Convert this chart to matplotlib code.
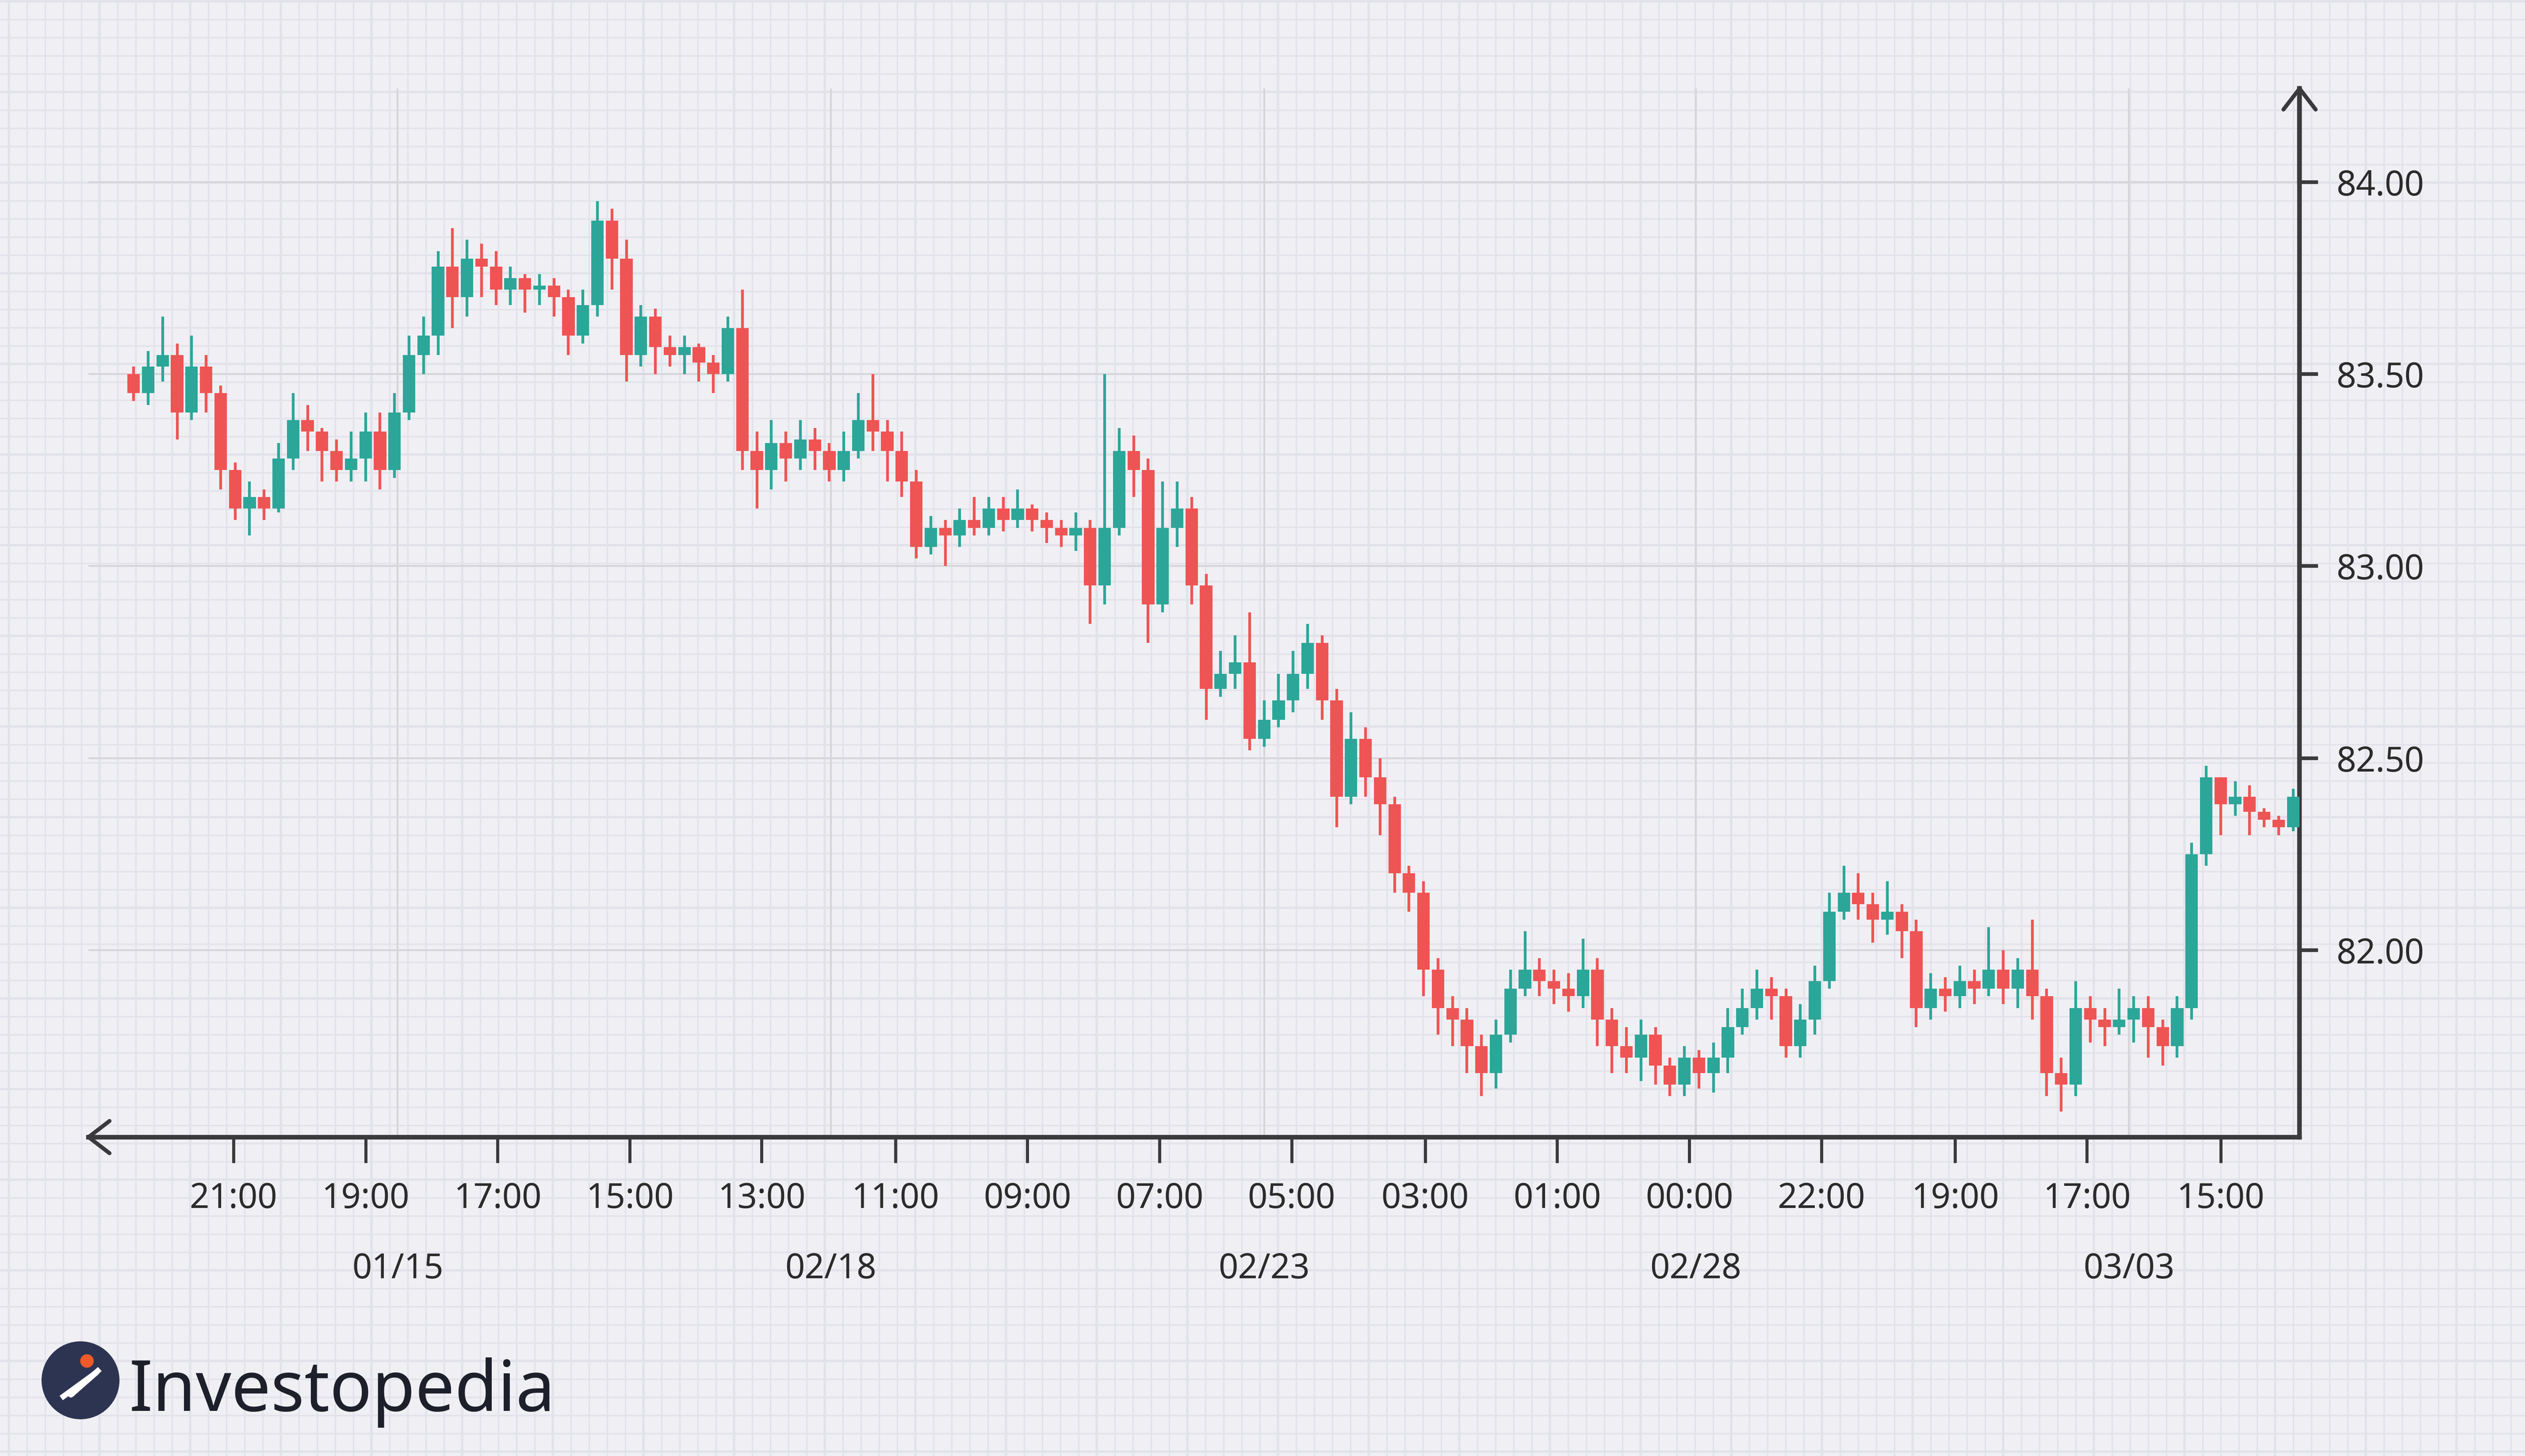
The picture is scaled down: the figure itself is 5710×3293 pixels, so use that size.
import matplotlib
matplotlib.use("Agg")
import matplotlib.pyplot as plt
from matplotlib.lines import Line2D
from matplotlib.patches import Circle

opens = [83.50,83.45,83.52,83.55,83.40,83.52,83.45,83.25,83.15,83.18,83.15,83.28,83.38,83.35,83.30,83.25,83.28,83.35,83.25,83.40,
83.55,83.60,83.78,83.70,83.80,83.78,83.72,83.75,83.72,83.73,83.70,83.60,83.68,83.90,83.80,83.55,83.65,83.57,83.55,83.57,
83.53,83.50,83.62,83.30,83.25,83.32,83.28,83.33,83.30,83.25,83.30,83.38,83.35,83.30,83.22,83.05,83.10,83.08,83.12,83.10,
83.15,83.12,83.15,83.12,83.10,83.08,83.10,82.95,83.10,83.30,83.25,82.90,83.10,83.15,82.95,82.68,82.72,82.75,82.55,82.60,
82.65,82.72,82.80,82.65,82.40,82.55,82.45,82.38,82.20,82.15,81.95,81.85,81.82,81.75,81.68,81.78,81.90,81.95,81.92,81.90,
81.88,81.95,81.82,81.75,81.72,81.78,81.70,81.65,81.72,81.68,81.72,81.80,81.85,81.90,81.88,81.75,81.82,81.92,82.10,82.15,
82.12,82.08,82.10,82.05,81.85,81.90,81.88,81.92,81.90,81.95,81.90,81.95,81.88,81.68,81.65,81.85,81.82,81.80,81.82,81.85,
81.80,81.75,81.85,82.25,82.45,82.38,82.40,82.36,82.34,82.32]
closes = [83.45,83.52,83.55,83.40,83.52,83.45,83.25,83.15,83.18,83.15,83.28,83.38,83.35,83.30,83.25,83.28,83.35,83.25,83.40,83.55,
83.60,83.78,83.70,83.80,83.78,83.72,83.75,83.72,83.73,83.70,83.60,83.68,83.90,83.80,83.55,83.65,83.57,83.55,83.57,83.53,
83.50,83.62,83.30,83.25,83.32,83.28,83.33,83.30,83.25,83.30,83.38,83.35,83.30,83.22,83.05,83.10,83.08,83.12,83.10,83.15,
83.12,83.15,83.12,83.10,83.08,83.10,82.95,83.10,83.30,83.25,82.90,83.10,83.15,82.95,82.68,82.72,82.75,82.55,82.60,82.65,
82.72,82.80,82.65,82.40,82.55,82.45,82.38,82.20,82.15,81.95,81.85,81.82,81.75,81.68,81.78,81.90,81.95,81.92,81.90,81.88,
81.95,81.82,81.75,81.72,81.78,81.70,81.65,81.72,81.68,81.72,81.80,81.85,81.90,81.88,81.75,81.82,81.92,82.10,82.15,82.12,
82.08,82.10,82.05,81.85,81.90,81.88,81.92,81.90,81.95,81.90,81.95,81.88,81.68,81.65,81.85,81.82,81.80,81.82,81.85,81.80,
81.75,81.85,82.25,82.45,82.38,82.40,82.36,82.34,82.32,82.40]
highs = [83.52,83.56,83.65,83.58,83.60,83.55,83.47,83.27,83.22,83.20,83.32,83.45,83.42,83.36,83.33,83.35,83.40,83.40,83.45,83.60,
83.65,83.82,83.88,83.85,83.84,83.82,83.78,83.76,83.76,83.75,83.72,83.72,83.95,83.93,83.85,83.68,83.67,83.60,83.60,83.58,
83.55,83.65,83.72,83.35,83.38,83.35,83.38,83.36,83.32,83.35,83.45,83.50,83.38,83.35,83.25,83.13,83.12,83.15,83.18,83.18,
83.18,83.20,83.16,83.14,83.12,83.14,83.12,83.50,83.36,83.34,83.28,83.22,83.22,83.18,82.98,82.78,82.82,82.88,82.65,82.72,
82.78,82.85,82.82,82.68,82.62,82.58,82.50,82.40,82.22,82.18,81.98,81.88,81.85,81.78,81.82,81.95,82.05,81.98,81.95,81.94,
82.03,81.98,81.85,81.80,81.82,81.80,81.72,81.75,81.74,81.76,81.85,81.90,81.95,81.93,81.90,81.86,81.96,82.15,82.22,82.20,
82.15,82.18,82.12,82.08,81.94,81.93,81.96,81.95,82.06,82.00,81.98,82.08,81.90,81.72,81.92,81.88,81.85,81.90,81.88,81.88,
81.82,81.88,82.28,82.48,82.45,82.44,82.43,82.37,82.35,82.42]
lows = [83.43,83.42,83.48,83.33,83.38,83.40,83.20,83.12,83.08,83.12,83.14,83.25,83.30,83.22,83.22,83.22,83.22,83.20,83.23,83.38,
83.50,83.55,83.62,83.65,83.70,83.68,83.68,83.66,83.68,83.65,83.55,83.58,83.65,83.72,83.48,83.52,83.50,83.52,83.50,83.48,
83.45,83.48,83.25,83.15,83.20,83.22,83.25,83.25,83.22,83.22,83.28,83.30,83.22,83.18,83.02,83.03,83.00,83.05,83.08,83.08,
83.09,83.10,83.09,83.06,83.05,83.04,82.85,82.90,83.08,83.18,82.80,82.88,83.05,82.90,82.60,82.66,82.68,82.52,82.53,82.58,
82.62,82.68,82.60,82.32,82.38,82.40,82.30,82.15,82.10,81.88,81.78,81.75,81.68,81.62,81.64,81.76,81.88,81.88,81.86,81.84,
81.85,81.75,81.68,81.68,81.66,81.65,81.62,81.62,81.64,81.63,81.68,81.78,81.82,81.82,81.72,81.72,81.78,81.90,82.08,82.08,
82.02,82.04,81.98,81.80,81.82,81.84,81.85,81.86,81.88,81.86,81.85,81.82,81.62,81.58,81.62,81.76,81.75,81.78,81.76,81.72,
81.70,81.72,81.82,82.22,82.30,82.35,82.30,82.32,82.30,82.31]
y_ticks = [82.00, 82.50, 83.00, 83.50, 84.00]
time_labels = ["21:00","19:00","17:00","15:00","13:00","11:00","09:00","07:00",
               "05:00","03:00","01:00","00:00","22:00","19:00","17:00","15:00"]
date_labels = ["01/15","02/18","02/23","02/28","03/03"]

W, H = 1568.0, 904.0
def fx(x): return x / W
def fy(y): return 1 - y / H
def xi(x): return (x - 83) / 9.0
time_pos = [xi(x) for x in [145,227,309,391,473,556,638,720,802,885,967,1049,1131,1214,1296,1379]]
date_pos = [xi(x) for x in [247,516,785,1053,1322]]

BG = "#f0f0f4"
RED, GREEN, DARK = "#ef5454", "#2ca699", "#3a3a3c"
fig = plt.figure(figsize=(57.1, 32.93), dpi=100, facecolor=BG)

bg = fig.add_axes([0, 0, 1, 1], zorder=-5)
bg.set_xlim(0, 5710); bg.set_ylim(0, 3293); bg.axis("off")
x = 20.0
k = 0
while x < 5710:
    bg.axvline(x, color="#e2e2ea", lw=2.5 if k % 5 else 4, zorder=0)
    x += 41; k += 1
y = 10.0
k = 0
while y < 3293:
    bg.axhline(y, color="#e2e2ea", lw=2.5 if k % 5 else 4, zorder=0)
    y += 41; k += 1

L, R, T, B = 55, 1428, 55, 706
ax = fig.add_axes([fx(L), fy(B), fx(R) - fx(L), fy(T) - fy(B)])
ax.set_facecolor("none")
ax.set_xlim(xi(L), xi(R))
p_bottom = 82.0 - (B - 590) / 238.5
p_top = 84.0 + (113 - T) / 238.5
ax.set_ylim(p_bottom, p_top)

for p in y_ticks:
    ax.axhline(p, color="#d6d6da", lw=3, zorder=1)
for d in date_pos:
    ax.axvline(d, color="#d6d6da", lw=3, zorder=1)

for i in range(len(closes)):
    o, c, h, l = opens[i], closes[i], highs[i], lows[i]
    col = GREEN if c >= o else RED
    ax.vlines(i, l, h, color=col, lw=4.5, zorder=3)
    ax.bar(i, abs(c - o) if abs(c - o) > 0.004 else 0.008, bottom=min(o, c),
           width=0.86, color=col, edgecolor="none", zorder=4)

for s in ["left", "top"]:
    ax.spines[s].set_visible(False)
for s in ["bottom", "right"]:
    ax.spines[s].set_color(DARK); ax.spines[s].set_linewidth(7.5)
ax.yaxis.tick_right()
ax.set_yticks(y_ticks)
ax.set_yticklabels([f"{v:.2f}" for v in y_ticks])
ax.tick_params(axis="y", length=30, width=6, color=DARK, pad=30,
               labelsize=56, labelcolor="#2b2b2b")
ax.set_xticks(time_pos)
ax.set_xticklabels(time_labels)
ax.tick_params(axis="x", length=42, width=5, color=DARK, pad=30,
               labelsize=56, labelcolor="#2b2b2b")
for t in ax.get_xticklabels() + ax.get_yticklabels():
    t.set_fontfamily("Noto Sans")
    t.set_fontweight("medium")
for d, lab in zip(date_pos, date_labels):
    ax.text(d, -0.126, lab, transform=ax.get_xaxis_transform(), ha="center",
            va="center", fontsize=56, color="#2b2b2b", family="Noto Sans",
            fontweight="medium")

for (x0, y0), (x1, y1) in [((L, B), (L + 13, B - 10)), ((L, B), (L + 13, B + 10)),
                           ((R, T), (R - 10, T + 13)), ((R, T), (R + 10, T + 13))]:
    fig.add_artist(Line2D([fx(x0), fx(x1)], [fy(y0), fy(y1)], color=DARK, lw=6.5,
                          solid_capstyle="round"))
fig.add_artist(Line2D([fx(R), fx(R)], [fy(T), fy(113)], color=DARK, lw=7.5))

la = fig.add_axes([0, 0, 1, 1], zorder=5)
la.set_xlim(0, W); la.set_ylim(H, 0); la.axis("off")
la.set_aspect("equal", adjustable="datalim")
la.add_patch(Circle((50, 857), 24, color="#2d3452"))
la.plot([38, 60, 44, 62], [868, 852, 866, 850], color="white", lw=9, solid_capstyle="butt")
la.add_patch(Circle((54, 845), 4, color="#f05a28"))
fig.text(fx(80), fy(876), "Investopedia", fontsize=114, color="#1d1f2a",
         family="Noto Sans", ha="left", va="baseline")

fig.savefig("out.png", dpi=100, facecolor=BG)
